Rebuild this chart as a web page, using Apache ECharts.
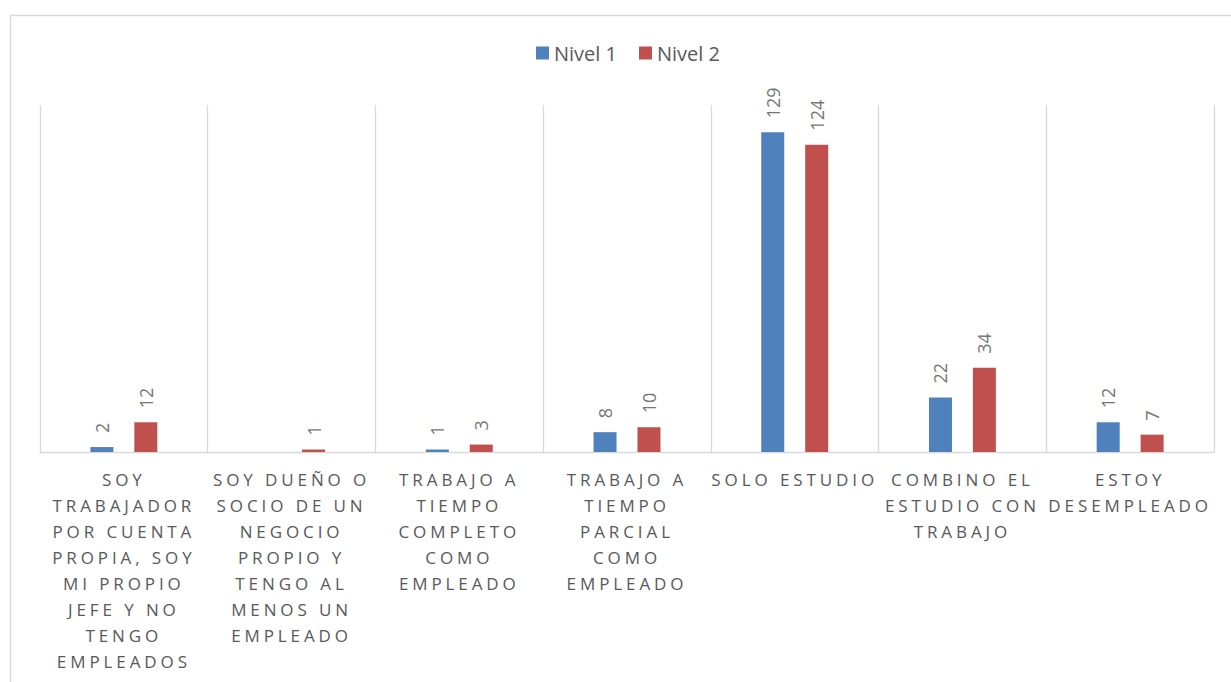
<!DOCTYPE html>
<html>
<head>
<meta charset="utf-8">
<script src="https://cdn.jsdelivr.net/npm/echarts@6/dist/echarts.min.js"></script>
<style>
    html, body { margin: 0; padding: 0; background: #fff; }
    #situacionChart { width: 1231px; height: 682px; }
    /* Excel-style spaced caps on the category labels (only they use 17px) */
    #situacionChart text[style*="17px"] { letter-spacing: 3.9px; }
</style>
</head>
<body>
<div id="situacionChart"></div>
<script>
    // categorias del eje (saltos de linea como en el grafico original)
    var categorias = [
        'SOY\nTRABAJADOR\nPOR CUENTA\nPROPIA, SOY\nMI PROPIO\nJEFE Y NO\nTENGO\nEMPLEADOS',
        'SOY DUEÑO O\nSOCIO DE UN\nNEGOCIO\nPROPIO Y\nTENGO AL\nMENOS UN\nEMPLEADO',
        'TRABAJO A\nTIEMPO\nCOMPLETO\nCOMO\nEMPLEADO',
        'TRABAJO A\nTIEMPO\nPARCIAL\nCOMO\nEMPLEADO',
        'SOLO ESTUDIO',
        'COMBINO EL\nESTUDIO CON\nTRABAJO',
        'ESTOY\nDESEMPLEADO'
    ];
    var nivel1 = [2, null, 1, 8, 129, 22, 12];
    var nivel2 = [12, 1, 3, 10, 124, 34, 7];

    var chart = echarts.init(document.getElementById('situacionChart'), null, {renderer: 'svg'});

    var etiqueta = {
        show: true,
        position: 'top',
        rotate: 90,
        align: 'left',
        verticalAlign: 'middle',
        distance: 14,
        color: '#767676',
        fontSize: 18,
        fontFamily: 'Open Sans'
    };

    var option = {
        animation: false,
        backgroundColor: '#fff',
        color: ['#4f81bd', '#c0504d'],
        graphic: [{
            type: 'rect',
            shape: {x: 10.5, y: 15.5, width: 1400, height: 900},
            style: {fill: 'none', stroke: '#d9d9d9', lineWidth: 1.3},
            silent: true,
            z: -10
        }],
        legend: {
            left: 531,
            top: 38,
            itemWidth: 13,
            itemHeight: 13,
            itemGap: 22,
            icon: 'rect',
            textStyle: {color: '#595959', fontSize: 20, fontFamily: 'Open Sans'},
            data: ['Nivel 1', 'Nivel 2']
        },
        grid: {left: 40, right: 17, top: 105, bottom: 230},
        xAxis: {
            type: 'category',
            data: categorias,
            axisTick: {show: false},
            axisLine: {lineStyle: {color: '#d9d9d9', width: 1.3}},
            splitLine: {show: true, lineStyle: {color: '#d9d9d9', width: 1.3}},
            axisLabel: {
                interval: 0,
                margin: 14,
                color: '#595959',
                fontSize: 17,
                fontFamily: 'Open Sans',
                lineHeight: 26
            }
        },
        yAxis: {
            type: 'value',
            min: 0,
            max: 140,
            show: false,
            splitLine: {show: false}
        },
        series: [{
            name: 'Nivel 1',
            type: 'bar',
            data: nivel1,
            barWidth: 23,
            barGap: '91%',
            label: etiqueta
        }, {
            name: 'Nivel 2',
            type: 'bar',
            data: nivel2,
            barWidth: 23,
            label: etiqueta
        }]
    };
    chart.setOption(option);
    window.addEventListener('resize', function () {
        chart.resize();
    });
</script>
</body>
</html>
